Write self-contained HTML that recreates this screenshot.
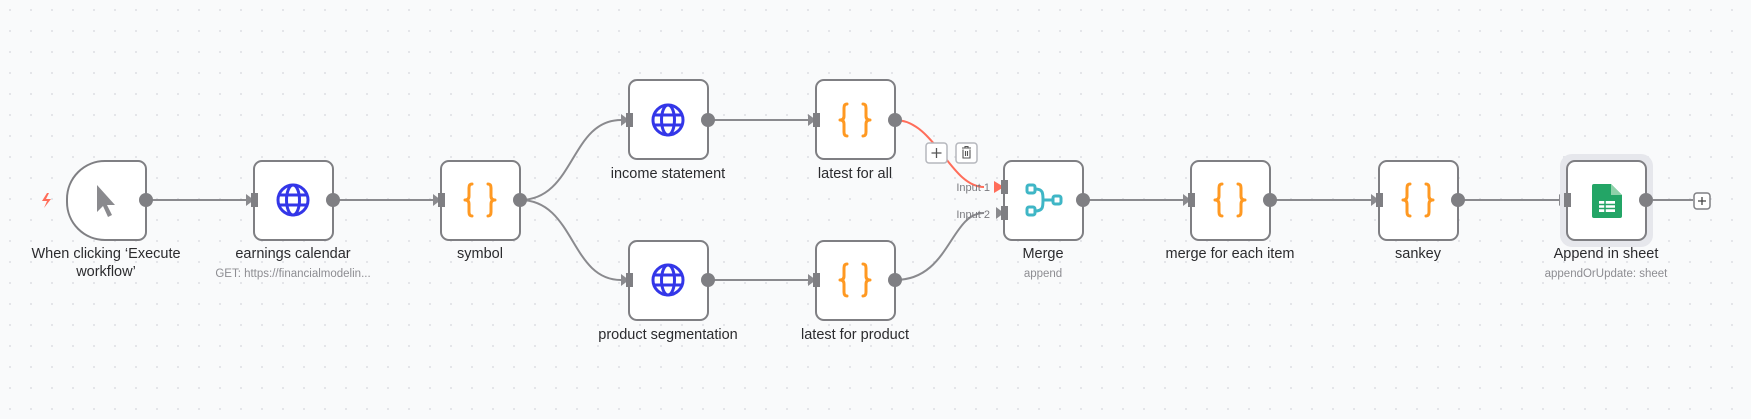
<!DOCTYPE html>
<html><head><meta charset="utf-8"><style>
html,body{margin:0;padding:0;width:1751px;height:419px;overflow:hidden;background:#f9fafb}
text{font-family:"Liberation Sans",sans-serif}
</style></head><body>
<svg width="1751" height="419" viewBox="0 0 1751 419" xmlns="http://www.w3.org/2000/svg">
<defs>
<pattern id="dots" width="21" height="21" patternUnits="userSpaceOnUse"><circle cx="10" cy="10" r="0.9" fill="#d4d6dc"/></pattern>
<g id="globe"><circle cx="0" cy="0" r="15" fill="none" stroke="#3336e8" stroke-width="3"/><ellipse cx="0" cy="0" rx="6.5" ry="15" fill="none" stroke="#3336e8" stroke-width="3"/><line x1="-15" y1="-5" x2="15" y2="-5" stroke="#3336e8" stroke-width="3"/><line x1="-15" y1="5" x2="15" y2="5" stroke="#3336e8" stroke-width="3"/></g>
<g id="braces" fill="none" stroke="#ff9922" stroke-width="3" stroke-linecap="round" stroke-linejoin="round"><path d="M-8,-16 Q-11,-16 -11,-12 V-4 Q-11,0 -15,0 Q-11,0 -11,4 V12 Q-11,16 -8,16"/><path d="M8,-16 Q11,-16 11,-12 V-4 Q11,0 15,0 Q11,0 11,4 V12 Q11,16 8,16"/></g>
<g id="node"><rect x="0" y="0" width="79" height="79" rx="8" fill="#fff" stroke="#7f7f83" stroke-width="2"/></g>
</defs>
<rect width="1751" height="419" fill="url(#dots)"/>

<g fill="none" stroke="#8a8a8e" stroke-width="2">
<path d="M146 200 H246"/>
<path d="M333 200 H433"/>
<path d="M520 200 C575 200 570 120 621 120"/>
<path d="M520 200 C575 200 570 280 621 280"/>
<path d="M708 120 H808"/>
<path d="M708 280 H808"/>
<path d="M895 280 C950 280 950 213 984 213"/>
<path d="M1083 200 H1183"/>
<path d="M1270 200 H1371"/>
<path d="M1458 200 H1559"/>
<path d="M1646 200 H1693"/>
</g>
<path d="M895 120 C935 120 950 187 984 187" fill="none" stroke="#ff6d5a" stroke-width="2"/>

<g fill="#8a8a8e">
<polygon points="246,194 254,200 246,206"/>
<polygon points="433,194 441,200 433,206"/>
<polygon points="621,114 629,120 621,126"/>
<polygon points="621,274 629,280 621,286"/>
<polygon points="808,114 816,120 808,126"/>
<polygon points="808,274 816,280 808,286"/>
<polygon points="996,207 1004,213 996,219"/>
<polygon points="1183,194 1191,200 1183,206"/>
<polygon points="1371,194 1379,200 1371,206"/>
<polygon points="1559,194 1567,200 1559,206"/>
</g>
<polygon points="994,181 1004,187 994,193" fill="#ff6d5a"/>

<rect x="1560" y="154" width="93" height="93" rx="12" fill="#e6e7ec"/>

<path d="M105 161 H138 a8 8 0 0 1 8 8 V232 a8 8 0 0 1 -8 8 H105 a38 38 0 0 1 -38 -38 V199 a38 38 0 0 1 38 -38 Z" fill="#fff" stroke="#7f7f83" stroke-width="2"/>
<path d="M97 185 L97 212 L103 206 L108 217 L112 215 L107 205 L115 205 Z" fill="#8a8a8e"/>
<path d="M47 193 L42 201 H47 L44 208 L51 199 H46 L49 193 Z" fill="#ff6d5a"/>

<use href="#node" x="254" y="161"/>
<use href="#node" x="441" y="161"/>
<use href="#node" x="629" y="80"/>
<use href="#node" x="629" y="241"/>
<use href="#node" x="816" y="80"/>
<use href="#node" x="816" y="241"/>
<use href="#node" x="1004" y="161"/>
<use href="#node" x="1191" y="161"/>
<use href="#node" x="1379" y="161"/>
<use href="#node" x="1567" y="161"/>

<use href="#globe" x="293" y="200"/>
<use href="#globe" x="668" y="120"/>
<use href="#globe" x="668" y="280"/>
<use href="#braces" x="480" y="200"/>
<use href="#braces" x="855" y="120"/>
<use href="#braces" x="855" y="280"/>
<use href="#braces" x="1230" y="200"/>
<use href="#braces" x="1418" y="200"/>

<g fill="none" stroke="#3fb6c6" stroke-width="3">
<rect x="1027" y="185" width="8" height="8" rx="2"/>
<rect x="1027" y="207" width="8" height="8" rx="2"/>
<rect x="1053" y="196" width="8" height="8" rx="2"/>
<path d="M1035 189 C1043 189 1043 193 1043 200 C1043 207 1043 211 1035 211 M1043 200 H1053"/>
</g>
<path d="M1594 184 H1611 L1622 195 V216 a2 2 0 0 1 -2 2 H1594 a2 2 0 0 1 -2 -2 V186 a2 2 0 0 1 2 -2 Z" fill="#23a566"/>
<path d="M1611 184 L1622 195 H1611 Z" fill="#8ed1a9"/>
<rect x="1599" y="201" width="16" height="11" fill="#fff"/>
<g stroke="#23a566" stroke-width="1.5"><line x1="1599" y1="204.5" x2="1615" y2="204.5"/><line x1="1599" y1="208.5" x2="1615" y2="208.5"/><line x1="1605" y1="201" x2="1605" y2="212"/></g>

<g fill="#7f7f83">
<circle cx="146" cy="200" r="7"/>
<circle cx="333" cy="200" r="7"/>
<circle cx="520" cy="200" r="7"/>
<circle cx="708" cy="120" r="7"/>
<circle cx="708" cy="280" r="7"/>
<circle cx="895" cy="120" r="7"/>
<circle cx="895" cy="280" r="7"/>
<circle cx="1083" cy="200" r="7"/>
<circle cx="1270" cy="200" r="7"/>
<circle cx="1458" cy="200" r="7"/>
<circle cx="1646" cy="200" r="7"/>
<rect x="251" y="193" width="7" height="14"/>
<rect x="438" y="193" width="7" height="14"/>
<rect x="626" y="113" width="7" height="14"/>
<rect x="626" y="273" width="7" height="14"/>
<rect x="813" y="113" width="7" height="14"/>
<rect x="813" y="273" width="7" height="14"/>
<rect x="1001" y="180" width="7" height="14"/>
<rect x="1001" y="206" width="7" height="14"/>
<rect x="1188" y="193" width="7" height="14"/>
<rect x="1376" y="193" width="7" height="14"/>
<rect x="1564" y="193" width="7" height="14"/>
</g>

<rect x="926" y="143" width="21" height="20" rx="3" fill="#fff" stroke="#b5b7bd" stroke-width="1.5"/>
<path d="M936.5 148 V158 M931.5 153 H941.5" stroke="#555" stroke-width="1.3"/>
<rect x="956" y="143" width="21" height="20" rx="3" fill="#fff" stroke="#b5b7bd" stroke-width="1.5"/>
<path d="M962 148 H971 M965 148 V146.5 H968 V148 M963 149.5 V158 H970 V149.5 M965.5 151 V156 M967.5 151 V156" fill="none" stroke="#555" stroke-width="1.1"/>
<rect x="1694" y="193" width="16" height="16" rx="3" fill="#fff" stroke="#7f7f83" stroke-width="1.5"/>
<path d="M1702 197 V205 M1698 201 H1706" stroke="#444" stroke-width="1.3"/>

<g font-size="14.5" fill="#2b2b2e" text-anchor="middle">
<text x="106" y="258">When clicking ‘Execute</text>
<text x="106" y="276">workflow’</text>
<text x="293" y="258">earnings calendar</text>
<text x="480" y="258">symbol</text>
<text x="668" y="178">income statement</text>
<text x="668" y="339">product segmentation</text>
<text x="855" y="178">latest for all</text>
<text x="855" y="339">latest for product</text>
<text x="1043" y="258">Merge</text>
<text x="1230" y="258">merge for each item</text>
<text x="1418" y="258">sankey</text>
<text x="1606" y="258">Append in sheet</text>
</g>
<g font-size="11.5" fill="#8d8d92" text-anchor="middle">
<text x="293" y="277">GET: https://financialmodelin...</text>
<text x="1043" y="277">append</text>
<text x="1606" y="277">appendOrUpdate: sheet</text>
</g>
<g font-size="11" fill="#7a7a7f" text-anchor="end">
<text x="990" y="191">Input 1</text>
<text x="990" y="218">Input 2</text>
</g>
</svg>
</body></html>
